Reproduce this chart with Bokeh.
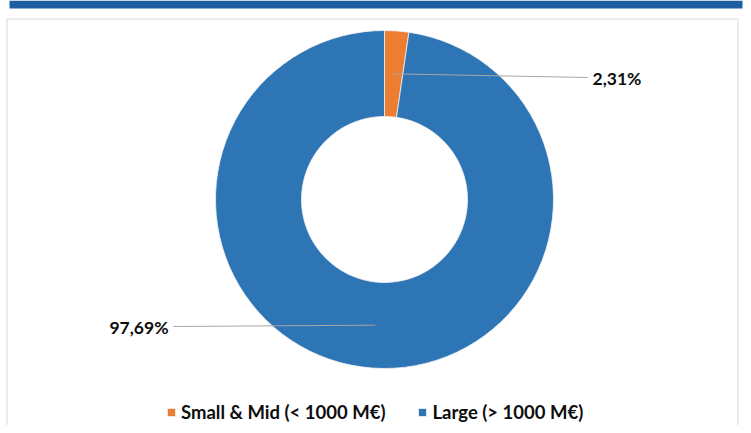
import math
from bokeh.plotting import figure
from bokeh.models import ColumnDataSource, Range1d, Legend, LegendItem
from bokeh.core.properties import value
from bokeh.embed import file_html
from bokeh.resources import INLINE

# ---- data ----
categories = ["Small & Mid (< 1000 M€)", "Large (> 1000 M€)"]
shares = [2.31, 97.69]
colors = ["#ED7D31", "#2E75B6"]
labels = ["2,31%", "97,69%"]

# ---- layout (screen pixels, y downward from page top) ----
W, H = 751, 425
CX, CY = 384, 199
R_OUT, R_IN = 169, 83
R_MID = (R_OUT + R_IN) / 2
FONT = "Lato"


def Y(s):
    return H - s


p = figure(width=W, height=H, output_backend="svg", toolbar_location=None,
           x_range=Range1d(0, W), y_range=Range1d(0, H),
           min_border=0, outline_line_color=None, background_fill_color="white",
           border_fill_color="white")
p.axis.visible = False
p.xgrid.visible = False
p.ygrid.visible = False
p.margin = (0, 0, 0, 0)

# header bar and frame
p.quad(left=[9], right=[742], top=[Y(0)], bottom=[Y(8)], fill_color="#1C5E9F", line_color=None)
p.quad(left=[6.5], right=[737.5], top=[Y(18.5)], bottom=[Y(440)], fill_color=None,
       line_color="#D9D9D9", line_width=1)

# wedges
total = sum(shares)
starts, ends, mids = [], [], []
acc = 0.0
for v in shares:
    a0 = math.pi / 2 - 2 * math.pi * acc / total
    acc += v
    a1 = math.pi / 2 - 2 * math.pi * acc / total
    starts.append(a0)
    ends.append(a1)
    mids.append((a0 + a1) / 2)

src = ColumnDataSource(dict(x=[CX] * len(shares), y=[Y(CY)] * len(shares),
                            start=starts, end=ends, color=colors, cat=categories))
r = p.annular_wedge(x="x", y="y", inner_radius=R_IN, outer_radius=R_OUT,
                    start_angle="start", end_angle="end", direction="clock",
                    fill_color="color", line_color="#F2F2F2", line_width=0.8, source=src)

# leader lines and labels
label_end = [(587, 77), (173, 326)]
text_pos = [(592, 78, "left"), (168, 327, "right")]
for i in range(len(shares)):
    sx = CX + R_MID * math.cos(mids[i])
    sy = Y(CY) + R_MID * math.sin(mids[i])
    ex, ey = label_end[i]
    p.line([sx, ex], [sy, Y(ey)], line_color="#A6A6A6", line_width=1)
    tx, ty, al = text_pos[i]
    p.text(x=[tx], y=[Y(ty)], text=[labels[i]], text_font=value(FONT),
           text_font_size="17.5px", text_font_style="bold", text_color="#0D0D0D",
           text_align=al, text_baseline="middle")

legend = Legend(items=[LegendItem(label=categories[i], renderers=[r], index=i)
                       for i in range(len(shares))],
                orientation="horizontal", location=(166, 2),
                label_text_font=FONT, label_text_font_size="18.5px",
                label_text_font_style="bold", label_text_color="#0D0D0D",
                glyph_width=10, glyph_height=10, label_standoff=5, spacing=32,
                padding=0, margin=0, border_line_alpha=0, background_fill_alpha=0)
p.add_layout(legend, "center")

open("out.html", "w").write(file_html(p, INLINE))
